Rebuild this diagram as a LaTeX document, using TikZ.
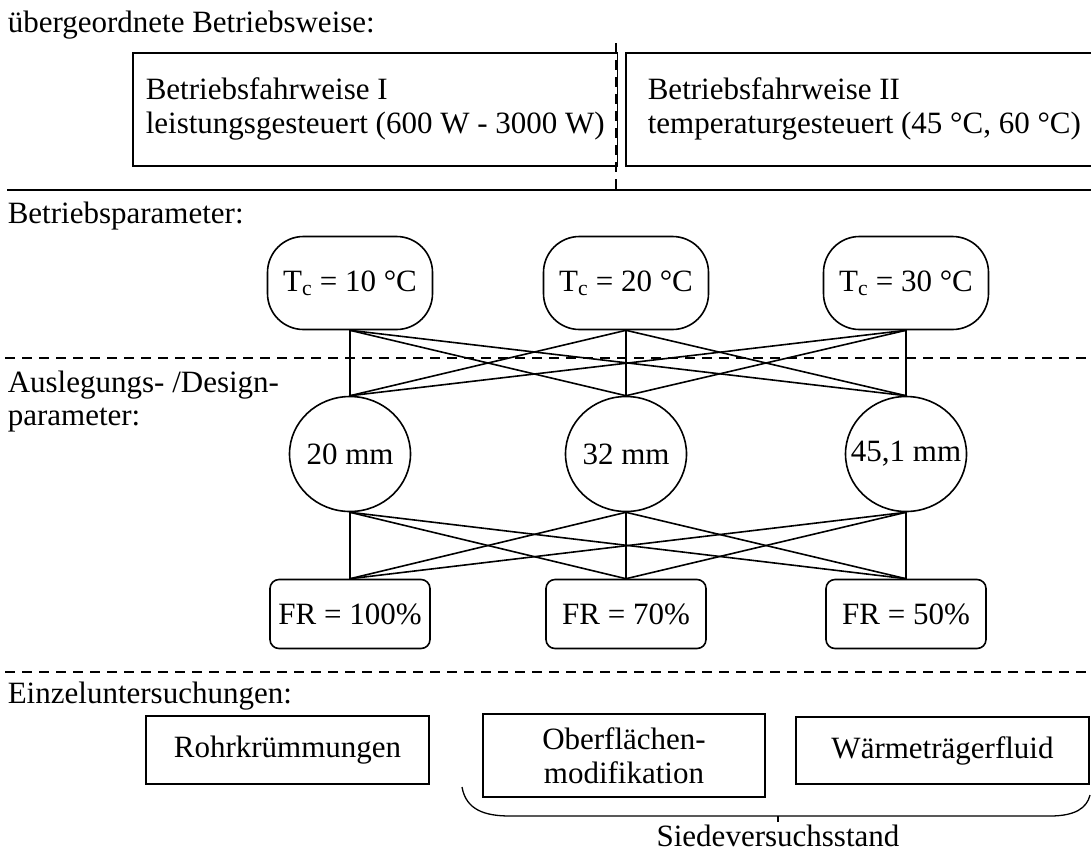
\documentclass[tikz,border=0pt]{standalone}
\usepackage{fontspec}
\setmainfont{Liberation Serif}
\usetikzlibrary{shapes.geometric}

\begin{document}
\begin{tikzpicture}[
  x=1pt,
  y=-1pt,
  font=\fontsize{31}{34}\selectfont,
  line width=1.6pt,
  modebox/.style={draw,anchor=north west,align=left,minimum height=113pt,inner xsep=13pt},
  parbox/.style={draw,rounded corners=36pt,minimum width=165pt,minimum height=93pt},
  diabox/.style={draw,ellipse,minimum width=121pt,minimum height=115pt,inner xsep=-14pt,inner ysep=0pt},
  frbox/.style={draw,rounded corners=9pt,minimum width=160pt,minimum height=69pt},
  testbox/.style={draw,line width=1.3pt,align=center,minimum height=68pt},
  lab/.style={anchor=base west,inner sep=0pt},
  sep/.style={dash pattern=on 10pt off 7pt}
]
\useasboundingbox (0,0) rectangle (1091,852);

% Betriebsweise
\node[lab] (hdmode) at (7,32) {übergeordnete Betriebsweise:};
\node[modebox,minimum width=474pt] (bw1) at (132,52) {Betriebsfahrweise I\\leistungsgesteuert (600 W - 3000 W)};
\node[modebox,inner xsep=22pt] (bw2) at (625,52) {Betriebsfahrweise II\\temperaturgesteuert (45 °C, 60 °C)};
\draw (7,190) -- (1091,190);
\draw[sep] (616,43) -- (616,190);

% Betriebsparameter
\node[lab] (hdpar) at (7,223) {Betriebsparameter:};
\foreach \x/\t [count=\i] in {350/10,626/20,906/30}
  \node[parbox] (tc\i) at (\x,283) {T\textsubscript{c} = \t~°C};
\draw[sep] (5,358) -- (1091,358);

% Auslegung
\node[lab] (hdaus) at (7,392) {Auslegungs- /Design-};
\node[lab] (hdaus2) at (7,425) {parameter:};
\foreach \x/\t [count=\i] in {350/20 mm,626/32 mm,906/{45,1 mm}}
  \node[diabox] (d\i) at (\x,454) {\t};
\foreach \i in {1,2,3}
  \foreach \j in {1,2,3}
    \draw (tc\i.south) -- (d\j.north);

\foreach \x/\t [count=\i] in {350/100,626/70,906/50}
  \node[frbox] (fr\i) at (\x,614) {FR = \t\%};
\foreach \i in {1,2,3}
  \foreach \j in {1,2,3}
    \draw (d\i.south) -- (fr\j.north);
\draw[sep] (5,672) -- (1091,672);

% Einzeluntersuchungen
\node[lab] (hdeinz) at (7,703) {Einzeluntersuchungen:};
\node[testbox,minimum width=283pt] (rohr) at (287.5,750) {Rohrkrümmungen};
\node[testbox,minimum width=282pt,minimum height=83pt] (ofl) at (624,755.5) {Oberflächen-\\modifikation};
\node[testbox,minimum width=293pt,minimum height=67pt] (wtf) at (942.5,750.5) {Wärmeträgerfluid};

% Klammer
\coordinate (kl) at (462,787);
\coordinate (kr) at (1090,795);
\coordinate (km) at (778,816);
\draw[line width=1.3pt] (kl) .. controls (466,810) and (485,816) .. (510,816) -- (1050,816) .. controls (1075,816) and (1087,808) .. (kr);
\node[anchor=base,inner sep=2pt] (sv) at (778,846) {Siedeversuchsstand};
\draw[line width=1.3pt] (km) -- (sv.north);
\end{tikzpicture}
\end{document}
